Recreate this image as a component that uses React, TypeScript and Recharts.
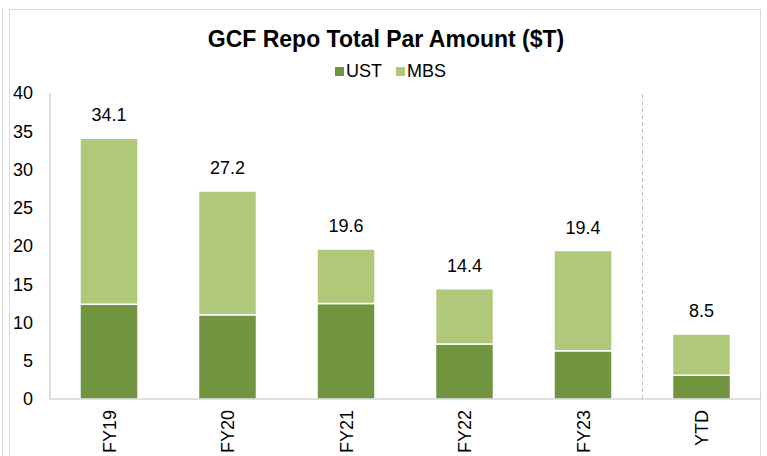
import { BarChart, Bar, XAxis, YAxis, LabelList, ReferenceLine } from 'recharts';

const categories = ['FY19', 'FY20', 'FY21', 'FY22', 'FY23', 'YTD'];
const ustValues = [12.4, 11.0, 12.5, 7.2, 6.3, 3.1];
const mbsValues = [21.7, 16.2, 7.1, 7.2, 13.1, 5.4];
const totals = [34.1, 27.2, 19.6, 14.4, 19.4, 8.5];
const yTicks = [0, 5, 10, 15, 20, 25, 30, 35, 40];

const UST_COLOR = '#71943f';
const MBS_COLOR = '#b0c87a';
const AXIS_COLOR = '#bfbfbf';
const FONT = '"Liberation Sans", Arial, sans-serif';

const data = categories.map((name, i) => ({
  name,
  ust: ustValues[i],
  mbs: mbsValues[i],
  total: totals[i],
}));

// tick y already sits a few px below the axis line
function RotatedTick({ x, y, payload }: any) {
  return (
    <g transform={`translate(${x},${y})`}>
      <text
        transform="rotate(-90)"
        x={-3}
        y={6.5}
        textAnchor="end"
        fontSize={18}
        fontFamily={FONT}
        fill="#000"
      >
        {payload.value}
      </text>
    </g>
  );
}

export default function App() {
  return (
    <div style={{ position: 'relative', width: 767, height: 456, background: '#fff', overflow: 'hidden', fontFamily: FONT }}>
      <style>{`body{margin:0}`}</style>
      {/* frame lines */}
      <div style={{ position: 'absolute', left: 2, top: 8, width: 1, height: 448, background: '#d9d9d9' }} />
      <div style={{ position: 'absolute', left: 9, top: 9, width: 752, height: 460, border: '1px solid #d9d9d9', borderBottom: 'none', boxSizing: 'border-box' }} />

      <div style={{ position: 'absolute', left: 0, top: 26, width: 772, textAlign: 'center', fontSize: 23, fontWeight: 'bold', color: '#000' }}>
        GCF Repo Total Par Amount ($T)
      </div>
      <div style={{ position: 'absolute', left: 0, top: 61, width: 781, display: 'flex', justifyContent: 'center', gap: 14, fontSize: 18, color: '#000' }}>
        {[
          { label: 'UST', color: UST_COLOR },
          { label: 'MBS', color: MBS_COLOR },
        ].map((item) => (
          <div key={item.label} style={{ display: 'flex', alignItems: 'center', gap: 2 }}>
            <div style={{ width: 9, height: 9, background: item.color }} />
            <span>{item.label}</span>
          </div>
        ))}
      </div>

      <div style={{ position: 'absolute', left: 0, top: 0 }}>
        <BarChart
          width={767}
          height={456}
          data={data}
          margin={{ top: 93, right: 6, bottom: 0, left: 0 }}
        >
          <YAxis
            width={50}
            domain={[0, 40]}
            ticks={yTicks}
            interval={0}
            axisLine={{ stroke: AXIS_COLOR }}
            tickLine={false}
            tickMargin={11}
            tick={{ fontSize: 18, fill: '#000', fontFamily: FONT }}
          />
          <XAxis
            dataKey="name"
            height={57}
            interval={0}
            axisLine={{ stroke: AXIS_COLOR }}
            tickLine={false}
            tick={<RotatedTick />}
          />
          <ReferenceLine
            x="YTD"
            position="start"
            stroke={AXIS_COLOR}
            strokeDasharray="4 3"
            ifOverflow="visible"
          />
          <Bar dataKey="ust" stackId="a" fill={UST_COLOR} stroke="#fff" strokeWidth={1.5} barSize={58} isAnimationActive={false} />
          <Bar dataKey="mbs" stackId="a" fill={MBS_COLOR} stroke="#fff" strokeWidth={1.5} barSize={58} isAnimationActive={false}>
            <LabelList dataKey="total" position="top" offset={17} fontSize={18} fill="#000" fontFamily={FONT} />
          </Bar>
        </BarChart>
      </div>
    </div>
  );
}
